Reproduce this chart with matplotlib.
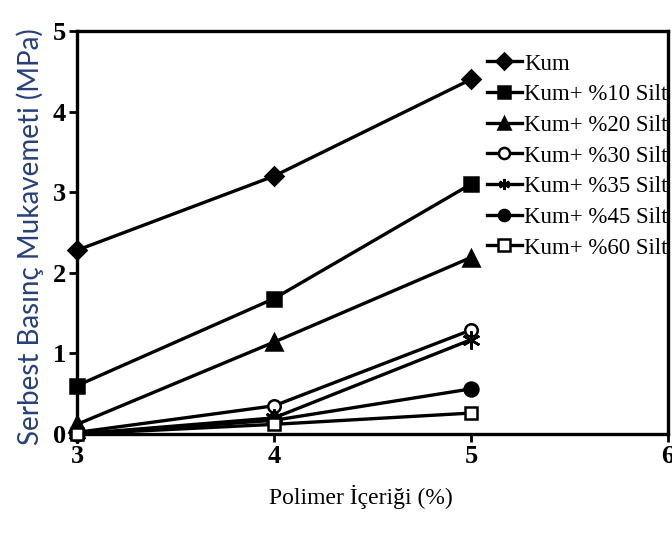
import matplotlib.pyplot as plt

polimer = [3, 4, 5]

kum = [2.28, 3.20, 4.40]
silt10 = [0.60, 1.68, 3.10]
silt20 = [0.12, 1.14, 2.19]
silt30 = [0.02, 0.35, 1.29]
silt35 = [0.00, 0.20, 1.17]
silt45 = [0.00, 0.17, 0.56]
silt60 = [0.00, 0.12, 0.26]

labels = ["Kum", "Kum+ %10 Silt", "Kum+ %20 Silt", "Kum+ %30 Silt",
          "Kum+ %35 Silt", "Kum+ %45 Silt", "Kum+ %60 Silt"]
series = [kum, silt10, silt20, silt30, silt35, silt45, silt60]

# marker, face colour, size for each series
styles = [
    ("D", "black", 9),
    ("s", "black", 10),
    ("^", "black", 11),
    ("o", "white", 9),
    ((6, 2, 0), "black", 13),
    ("o", "black", 10),
    ("s", "white", 9),
]

plt.rcParams['font.family'] = ['Liberation Serif', 'DejaVu Serif']

fig = plt.figure(figsize=(6.72, 5.33), dpi=100)
ax = fig.add_axes([0.1146, 0.1857, 0.8794, 0.7561])

for vals, lab, (m, fc, ms) in zip(series, labels, styles):
    ax.plot(polimer, vals, color="black", linewidth=2.4, marker=m,
            markerfacecolor=fc, markeredgecolor="black", markeredgewidth=1.8,
            markersize=ms, label=lab, clip_on=False, zorder=3)

ax.set_xlim(3, 6)
ax.set_ylim(0, 5)
ax.set_xticks([3, 4, 5, 6])
ax.set_yticks([0, 1, 2, 3, 4, 5])

for sp in ax.spines.values():
    sp.set_linewidth(2.4)

ax.tick_params(direction="out", length=6, width=2, labelsize=19, pad=2)
for t in ax.get_xticklabels() + ax.get_yticklabels():
    t.set_fontweight("bold")

ax.set_xlabel("Polimer İçeriği (%)", fontsize=17, x=0.48, labelpad=12)
ax.set_ylabel("Serbest Basınç Mukavemeti (MPa)", fontsize=20,
              family=["Lato", "DejaVu Sans"], color="#28407a", labelpad=6,
              y=0.49)

leg = ax.legend(loc="upper right", bbox_to_anchor=(1.003, 0.95), fontsize=16.5,
                frameon=True, facecolor="white", edgecolor="none",
                framealpha=1.0, fancybox=False, borderpad=0.1,
                handlelength=1.5, handletextpad=0.1, labelspacing=0.42,
                borderaxespad=0.0)
for h in leg.legend_handles:
    h.set_markersize(8)
# keep the data markers and the frame drawn on top of the legend box
leg.set_zorder(2)

fig.savefig("out.png", dpi=100)
